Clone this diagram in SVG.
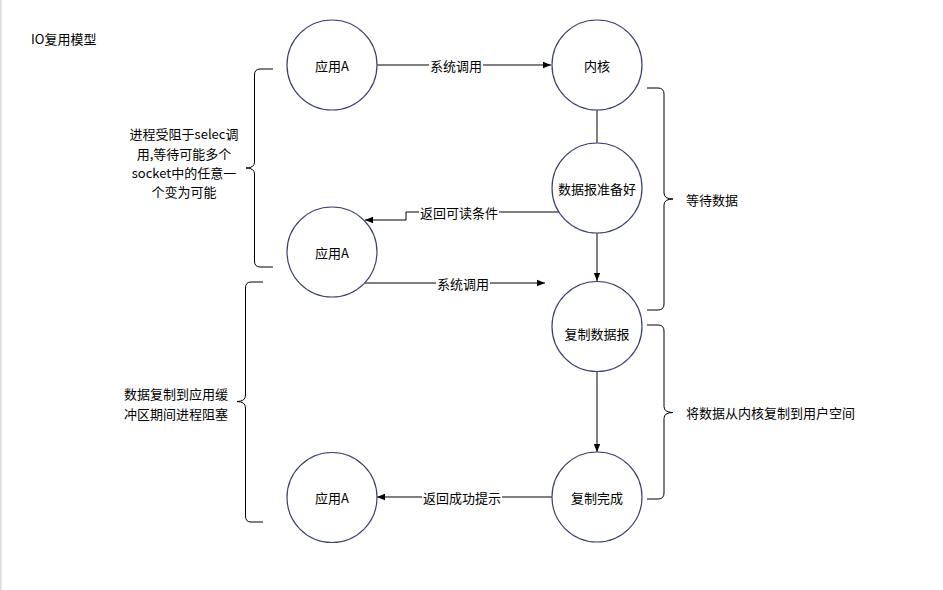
<svg xmlns="http://www.w3.org/2000/svg" width="943" height="590" viewBox="0 0 943 590">
<style>
text{font-family:"Noto Sans CJK SC","Microsoft YaHei",sans-serif;font-size:13px;fill:#000}
.c{text-anchor:middle;dominant-baseline:central}
.node circle{fill:#fff;stroke:#3b4170;stroke-width:1.2}
.e{fill:none;stroke:#000;stroke-width:1}
.br{fill:none;stroke:#000;stroke-width:1}
.lb{fill:#fff}
</style>
<defs>
<marker id="ah" viewBox="0 0 10 10" refX="10" refY="5" markerWidth="8" markerHeight="8" markerUnits="userSpaceOnUse" orient="auto">
<path d="M0,1 L10,5 L0,9 Z" fill="#000"/>
</marker>
</defs>
<rect width="943" height="590" fill="#fff"/>
<rect x="0" y="0" width="1.5" height="590" fill="#d9d9d9"/>
<text x="31" y="38" style="dominant-baseline:central">IO复用模型</text>

<g id="connectors">
<path class="e" d="M377,65 H551" marker-end="url(#ah)"/>
<rect class="lb" x="429" y="57" width="54" height="16"/>
<text class="c" x="456" y="65">系统调用</text>
<path class="e" d="M597,110 V143"/>
<path class="e" d="M559,212 H406 V220 H365" marker-end="url(#ah)"/>
<rect class="lb" x="419" y="204" width="80" height="16"/>
<text class="c" x="459" y="212">返回可读条件</text>
<path class="e" d="M597,233 V281" marker-end="url(#ah)"/>
<path class="e" d="M365,283 H545" marker-end="url(#ah)"/>
<rect class="lb" x="436" y="275" width="54" height="16"/>
<text class="c" x="463" y="283">系统调用</text>
<path class="e" d="M597,371 V452" marker-end="url(#ah)"/>
<path class="e" d="M552,497 H377" marker-end="url(#ah)"/>
<rect class="lb" x="422" y="489" width="80" height="16"/>
<text class="c" x="462" y="497">返回成功提示</text>
</g>

<g id="brace-left-1">
<path class="br" d="M273,69 H260 Q254.5,69 254.5,75 V162 Q254.5,168 246,168 Q254.5,168 254.5,174 V261 Q254.5,267 260,267 H273"/>
<text class="c" x="184" y="133">进程受阻于selec调</text>
<text class="c" x="184" y="153">用,等待可能多个</text>
<text class="c" x="184" y="172">socket中的任意一</text>
<text class="c" x="184" y="191">个变为可能</text>
</g>
<g id="brace-left-2">
<path class="br" d="M263,282 H251 Q245.5,282 245.5,288 V395 Q245.5,401.5 237,401.5 Q245.5,401.5 245.5,408 V516 Q245.5,522 251,522 H263"/>
<text class="c" x="176" y="393">数据复制到应用缓</text>
<text class="c" x="176" y="413">冲区期间进程阻塞</text>
</g>
<g id="brace-right-1">
<path class="br" d="M647,88 H658 Q664,88 664,94 V193 Q664,199 673,199 Q664,199 664,205 V304 Q664,310 658,310 H647"/>
<text x="686" y="199" style="dominant-baseline:central">等待数据</text>
</g>
<g id="brace-right-2">
<path class="br" d="M647,325 H658 Q664,325 664,331 V406.5 Q664,412.5 673,412.5 Q664,412.5 664,418.5 V493 Q664,499 658,499 H647"/>
<text x="686" y="412" style="dominant-baseline:central">将数据从内核复制到用户空间</text>
</g>

<g id="app-a-1" class="node"><circle cx="332" cy="65" r="45"/><text class="c" x="332" y="65">应用A</text></g>
<g id="kernel" class="node"><circle cx="597" cy="65" r="45"/><text class="c" x="597" y="65">内核</text></g>
<g id="datagram-ready" class="node"><circle cx="597" cy="188" r="45"/><text class="c" x="597" y="188">数据报准备好</text></g>
<g id="app-a-2" class="node"><circle cx="332" cy="252" r="45"/><text class="c" x="332" y="252">应用A</text></g>
<g id="copy-datagram" class="node"><circle cx="597" cy="326.5" r="45"/><text class="c" x="597" y="333">复制数据报</text></g>
<g id="copy-done" class="node"><circle cx="597" cy="497" r="45"/><text class="c" x="597" y="497">复制完成</text></g>
<g id="app-a-3" class="node"><circle cx="332" cy="497.5" r="45"/><text class="c" x="332" y="497.5">应用A</text></g>
</svg>
